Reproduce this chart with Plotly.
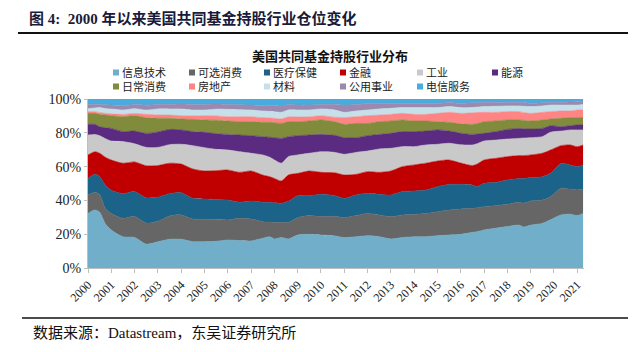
import plotly.graph_objects as go

# ---------------- data ----------------
years = [2000.0, 2000.3, 2000.5, 2000.75, 2001.0, 2001.5, 2002.0, 2002.5, 2003.0, 2003.5,
         2004.0, 2004.5, 2005.0, 2005.5, 2006.0, 2006.5, 2007.0, 2007.5, 2007.8, 2008.0,
         2008.3, 2008.6, 2009.0, 2009.5, 2010.0, 2010.6, 2011.0, 2011.5, 2012.0, 2012.5,
         2013.0, 2013.5, 2014.0, 2014.5, 2015.0, 2015.5, 2016.0, 2016.5, 2016.7, 2017.0,
         2017.5, 2018.0, 2018.5, 2018.7, 2019.0, 2019.5, 2019.85, 2020.3, 2020.7, 2021.0, 2021.25]

info_tech = [32.3, 34.3, 33.0, 26.0, 22.5, 18.5, 18.0, 14.0, 15.6, 17.0,
             17.0, 15.6, 15.6, 15.8, 16.6, 16.2, 16.0, 17.6, 18.5, 17.2,
             18.0, 17.2, 19.5, 19.9, 19.5, 19.0, 18.0, 18.5, 19.1, 18.5,
             17.2, 18.0, 18.5, 18.5, 19.1, 19.5, 19.9, 21.1, 21.5, 22.5,
             23.5, 24.5, 25.4, 24.2, 25.4, 26.4, 28.5, 31.4, 31.8, 31.0, 32.3]
cons_disc = [10.9, 10.5, 10.5, 9.0, 9.8, 10.9, 12.4, 12.4, 12.2, 13.8,
             14.4, 13.4, 13.2, 13.0, 11.8, 13.2, 13.0, 9.8, 8.7, 9.8,
             9.0, 9.8, 10.3, 11.1, 10.9, 11.6, 11.8, 12.5, 13.2, 12.9,
             13.2, 13.4, 13.3, 13.8, 14.2, 14.8, 15.0, 14.2, 14.1, 13.8,
             13.4, 13.2, 13.5, 14.1, 14.2, 13.8, 13.7, 15.7, 14.9, 15.2, 14.4]
health = [9.8, 10.6, 10.5, 14.0, 13.7, 14.6, 14.6, 14.8, 14.4, 13.2,
          13.2, 12.2, 12.0, 11.8, 11.8, 9.5, 10.6, 11.5, 11.7, 11.6,
          11.3, 12.5, 13.0, 11.8, 13.2, 12.2, 11.4, 12.2, 11.9, 12.2,
          12.8, 13.8, 13.8, 13.9, 14.8, 15.2, 14.6, 13.8, 12.5, 13.8,
          13.8, 14.4, 14.1, 14.7, 13.9, 13.8, 13.8, 14.8, 14.3, 13.8, 14.3]
financials = [13.9, 13.4, 13.9, 16.5, 17.9, 18.0, 17.5, 18.8, 18.8, 18.0,
              16.9, 17.4, 16.6, 17.0, 17.8, 17.7, 17.8, 16.1, 15.1, 14.4,
              13.2, 15.5, 13.2, 14.6, 13.0, 13.5, 13.8, 12.2, 12.8, 13.0,
              14.2, 14.8, 15.4, 15.8, 15.2, 14.4, 12.6, 11.5, 13.4, 13.8,
              14.2, 13.8, 13.5, 13.5, 13.4, 13.9, 13.8, 10.5, 11.8, 11.8, 11.8]
industrials = [11.8, 10.2, 10.4, 11.0, 11.2, 12.8, 10.7, 10.8, 10.8, 11.0,
               11.7, 13.8, 13.8, 12.6, 11.8, 12.2, 10.5, 11.9, 11.5, 10.9,
               10.5, 10.9, 10.9, 10.5, 12.2, 12.1, 12.3, 13.0, 12.2, 13.8,
               13.4, 11.8, 10.8, 10.8, 9.9, 9.9, 10.8, 12.2, 12.0, 11.2,
               10.8, 10.4, 10.2, 10.4, 10.2, 9.8, 10.5, 8.6, 8.9, 9.9, 8.9]
energy = [6.3, 6.0, 5.3, 6.5, 7.5, 5.9, 7.5, 8.2, 9.2, 9.0,
          8.5, 8.3, 9.1, 9.3, 9.2, 9.9, 10.4, 10.8, 11.9, 13.2,
          14.7, 11.8, 11.4, 10.8, 10.2, 10.1, 9.8, 8.7, 9.1, 8.6,
          8.9, 8.9, 8.9, 8.2, 8.5, 7.2, 6.9, 6.2, 5.8, 4.6,
          5.0, 5.7, 5.9, 5.5, 5.1, 4.9, 3.9, 2.6, 2.5, 2.9, 2.9]
cons_staples = [6.5, 6.5, 7.3, 7.5, 7.5, 8.8, 9.0, 9.2, 8.2, 6.6,
                6.5, 7.3, 7.3, 7.9, 8.0, 7.9, 8.3, 8.5, 8.8, 8.9,
                8.9, 8.9, 8.3, 8.3, 8.6, 8.0, 7.9, 8.5, 7.3, 7.6,
                7.3, 6.9, 6.3, 6.0, 4.9, 5.2, 5.5, 6.0, 6.2, 6.9,
                6.3, 5.6, 5.0, 5.0, 4.8, 5.0, 4.0, 5.0, 4.8, 4.4, 4.4]
real_estate = [1.0, 1.0, 1.1, 1.0, 1.1, 1.4, 1.4, 2.0, 1.9, 1.9,
               1.9, 2.0, 2.5, 2.6, 2.5, 2.9, 2.9, 2.8, 2.6, 2.6,
               2.6, 2.9, 2.7, 2.5, 2.5, 2.7, 4.0, 3.9, 4.5, 3.9,
               3.9, 3.9, 3.9, 3.9, 4.9, 5.9, 6.2, 6.8, 6.5, 5.5,
               5.1, 4.9, 4.9, 4.6, 4.5, 4.5, 4.3, 4.3, 3.9, 4.5, 4.5]
materials = [1.8, 2.2, 2.9, 2.8, 2.9, 2.6, 2.8, 2.5, 3.6, 3.6,
             4.0, 3.5, 3.4, 4.0, 4.4, 4.2, 4.0, 3.9, 3.9, 3.9,
             3.9, 4.0, 4.2, 4.0, 4.0, 4.3, 3.1, 3.4, 3.4, 3.6,
             3.6, 3.4, 4.0, 4.0, 3.4, 3.4, 3.4, 3.2, 3.2, 3.4,
             3.6, 3.4, 3.4, 3.7, 4.0, 3.8, 3.9, 3.5, 3.5, 2.9, 3.3]
utilities = [2.5, 2.1, 1.9, 2.3, 2.3, 2.5, 2.5, 2.9, 2.7, 2.7,
             2.9, 3.3, 3.3, 3.0, 2.9, 2.9, 2.9, 3.1, 3.3, 3.5,
             3.7, 3.3, 2.9, 2.9, 2.7, 3.3, 4.3, 3.9, 3.9, 3.3,
             2.9, 2.5, 2.5, 2.5, 2.5, 2.5, 2.5, 2.8, 2.6, 2.5,
             2.3, 2.1, 2.1, 2.1, 1.9, 1.9, 1.6, 1.6, 1.8, 2.0, 2.0]
telecom = [3.2, 3.2, 3.2, 3.4, 3.6, 4.0, 3.2, 3.6, 3.2, 3.2,
           3.0, 3.2, 3.2, 3.0, 3.2, 3.4, 3.6, 4.0, 4.0, 4.0,
           4.2, 3.2, 3.6, 3.6, 3.2, 3.2, 3.6, 3.2, 2.6, 2.6,
           2.6, 2.6, 2.6, 2.6, 2.6, 2.0, 2.6, 2.2, 2.2, 2.0,
           2.0, 2.0, 2.0, 2.2, 2.6, 2.2, 2.0, 2.0, 1.8, 1.6, 1.2]

series_names = ["信息技术", "可选消费", "医疗保健", "金融", "工业", "能源",
                "日常消费", "房地产", "材料", "公用事业", "电信服务"]
series_values = [info_tech, cons_disc, health, financials, industrials, energy,
                 cons_staples, real_estate, materials, utilities, telecom]
colors = ["#70AECA", "#666666", "#1B6389", "#C00000", "#C9C9C9", "#5B2B82",
          "#808B3B", "#FF8585", "#C6E0EA", "#9B89B0", "#48ACDF"]

year_ticks = list(range(2000, 2022))
y_ticks = [0, 20, 40, 60, 80, 100]

# ---------------- layout geometry (pixels) ----------------
W, H = 640, 352
L, R, T, B = 88, 584, 99, 268  # plot area edges


def px(x):
    return (x - L) / (R - L)


def py(y):
    return (B - y) / (B - T)


SERIF = "Liberation Serif, Times New Roman, Noto Sans CJK SC, serif"

fig = go.Figure()
for name, vals, col in zip(series_names, series_values, colors):
    fig.add_trace(go.Scatter(
        x=years, y=vals, name=name, stackgroup="one", groupnorm="percent",
        mode="lines", line=dict(width=0.6, color=col, shape="spline", smoothing=0.7),
        fillcolor=col, showlegend=False, hoverinfo="x+y+name"))

shapes = []
annotations = []

# manual legend
leg_cols = [113, 189, 264, 340, 417, 492]
leg_rows = [72.5, 86.5]
for i, (name, col) in enumerate(zip(series_names, colors)):
    cx = leg_cols[i % 6]
    cy = leg_rows[i // 6]
    shapes.append(dict(type="rect", xref="paper", yref="paper",
                       x0=px(cx), x1=px(cx + 6), y0=py(cy + 3), y1=py(cy - 3),
                       fillcolor=col, line=dict(width=0)))
    annotations.append(dict(text=name, xref="paper", yref="paper", x=px(cx + 8), y=py(cy),
                            xanchor="left", yanchor="middle", showarrow=False, borderpad=0,
                            font=dict(size=11, family=SERIF, color="#222222")))

# chart title
annotations.append(dict(text="<b>美国共同基金持股行业分布</b>", xref="paper", yref="paper",
                        x=px(330), y=py(56), xanchor="center", yanchor="middle", showarrow=False,
                        borderpad=0, font=dict(size=13, family=SERIF, color="#111111")))
# figure title
annotations.append(dict(text="<b>图 4:  2000 年以来美国共同基金持股行业仓位变化</b>",
                        xref="paper", yref="paper", x=px(27), y=py(18),
                        xanchor="left", yanchor="middle", showarrow=False,
                        font=dict(size=15, family=SERIF, color="#1a1a3a")))
# footer
annotations.append(dict(text="数据来源：Datastream，东吴证券研究所",
                        xref="paper", yref="paper", x=px(31), y=py(333),
                        xanchor="left", yanchor="middle", showarrow=False,
                        font=dict(size=15, family=SERIF, color="#111111")))
# rules
shapes.append(dict(type="line", xref="paper", yref="paper", x0=px(18), x1=px(628),
                   y0=py(33), y1=py(33), line=dict(color="#111111", width=2)))
shapes.append(dict(type="line", xref="paper", yref="paper", x0=px(22), x1=px(628),
                   y0=py(318), y1=py(318), line=dict(color="#111111", width=1.5)))

fig.update_layout(
    width=W, height=H,
    margin=dict(l=L, r=W - R, t=T, b=H - B, pad=0),
    paper_bgcolor="white", plot_bgcolor="white",
    showlegend=False,
    shapes=shapes, annotations=annotations,
    xaxis=dict(range=[2000, 2021.29], tickmode="array", tickvals=year_ticks,
               ticktext=[str(y) for y in year_ticks], tickangle=-45,
               showgrid=False, zeroline=False, showline=True, linecolor="#BFBFBF",
               ticks="outside", ticklen=4, tickcolor="#BFBFBF",
               tickfont=dict(size=12, family=SERIF, color="#222222")),
    yaxis=dict(range=[0, 100], tickmode="array", tickvals=y_ticks,
               ticktext=[f"{v}%" for v in y_ticks],
               showgrid=False, zeroline=False, showline=True, linecolor="#BFBFBF",
               ticks="outside", ticklen=3, tickcolor="#BFBFBF",
               tickfont=dict(size=14, family=SERIF, color="#222222")),
)

fig.write_html("out.html")
